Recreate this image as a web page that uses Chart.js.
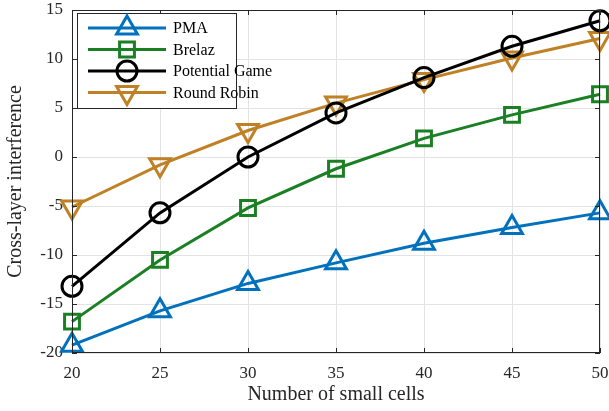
<!DOCTYPE html>
<html>
<head>
<meta charset="utf-8">
<script src="https://cdn.jsdelivr.net/npm/chart.js@4"></script>
<style>
  html, body { margin: 0; padding: 0; background: #fff; }
  #wrap { width: 609px; height: 411px; }
</style>
</head>
<body>
<div id="wrap"><canvas id="myChart" width="609" height="411"></canvas></div>
<script>
const cells = [20, 25, 30, 35, 40, 45, 50];
const pma = [-19.2, -15.7, -12.9, -10.8, -8.8, -7.2, -5.7];
const brelaz = [-16.8, -10.5, -5.2, -1.2, 1.9, 4.3, 6.4];
const potentialGame = [-13.2, -5.7, 0, 4.5, 8.1, 11.3, 13.9];
const roundRobin = [-5.1, -0.8, 2.7, 5.5, 7.9, 10.1, 12.1];
const xTicks = [20, 25, 30, 35, 40, 45, 50];
const yTicks = [-20, -15, -10, -5, 0, 5, 10, 15];

const serif = "'Liberation Serif', 'DejaVu Serif', serif";
const axisColor = '#262626';

function series(label, values, color, style, radius, rotation) {
    return {
        label,
        data: values.map((v, i) => ({ x: cells[i], y: v })),
        borderColor: color,
        backgroundColor: 'rgba(0,0,0,0)',
        borderWidth: 3,
        pointStyle: style,
        pointRadius: radius,
        pointRotation: rotation || 0,
        pointBorderWidth: 3,
        pointBackgroundColor: 'rgba(0,0,0,0)',
        pointBorderColor: color,
        tension: 0
    };
}

// box, inward ticks and the line+marker legend drawn like matlab
const matlabFrame = {
    id: 'matlabFrame',
    afterDatasetsDraw(chart) {
        const { ctx, chartArea: a, scales: { x, y } } = chart;
        ctx.save();
        ctx.strokeStyle = axisColor;
        ctx.lineWidth = 1;
        ctx.strokeRect(a.left + 0.5, a.top + 0.5, a.right - a.left - 1, a.bottom - a.top - 1);
        ctx.beginPath();
        xTicks.forEach(t => {
            const px = Math.round(x.getPixelForValue(t)) + 0.5;
            ctx.moveTo(px, a.bottom); ctx.lineTo(px, a.bottom - 5);
            ctx.moveTo(px, a.top); ctx.lineTo(px, a.top + 5);
        });
        yTicks.forEach(t => {
            const py = Math.round(y.getPixelForValue(t)) + 0.5;
            ctx.moveTo(a.left, py); ctx.lineTo(a.left + 5, py);
            ctx.moveTo(a.right, py); ctx.lineTo(a.right - 5, py);
        });
        ctx.stroke();

        // legend
        const bx = a.left + 5, by = a.top + 3, bw = 159, bh = 95;
        ctx.fillStyle = '#fff';
        ctx.fillRect(bx, by, bw, bh);
        ctx.strokeStyle = axisColor;
        ctx.strokeRect(bx + 0.5, by + 0.5, bw, bh);
        ctx.font = '16px ' + serif;
        ctx.textBaseline = 'middle';
        chart.data.datasets.forEach((ds, i) => {
            const ly = by + 15 + i * 21.5;
            ctx.strokeStyle = ds.borderColor;
            ctx.lineWidth = 3;
            ctx.beginPath();
            ctx.moveTo(bx + 11, ly); ctx.lineTo(bx + 89, ly);
            ctx.stroke();
            ctx.fillStyle = 'rgba(0,0,0,0)';
            Chart.helpers.drawPoint(ctx, {
                pointStyle: ds.pointStyle,
                radius: ds.pointRadius,
                rotation: ds.pointRotation,
                borderWidth: 3
            }, bx + 50, ly);
            ctx.fillStyle = '#000';
            ctx.fillText(ds.label, bx + 96, ly + 1);
        });
        ctx.restore();
    }
};

new Chart(document.getElementById('myChart'), {
    type: 'line',
    data: {
        datasets: [
            series('PMA', pma, '#0072BD', 'triangle', 12, 0),
            series('Brelaz', brelaz, '#1B8024', 'rect', 10.5, 0),
            series('Potential Game', potentialGame, '#000000', 'circle', 10, 0),
            series('Round Robin', roundRobin, '#BF8026', 'triangle', 12, 180)
        ]
    },
    options: {
        responsive: false,
        animation: false,
        clip: false,
        layout: { autoPadding: false, padding: { top: 10, right: 9, left: 0, bottom: 0 } },
        plugins: { legend: { display: false }, tooltip: { enabled: false } },
        scales: {
            x: {
                type: 'linear',
                min: 20, max: 50,
                afterBuildTicks: s => { s.ticks = xTicks.map(v => ({ value: v })); },
                afterFit: s => { s.height = 58; s.paddingLeft = 0; s.paddingRight = 0; },
                grid: { color: '#e3e3e3', drawTicks: false },
                border: { display: false },
                ticks: { color: '#262626', padding: 10, font: { family: serif, size: 17 } },
                title: {
                    display: true, text: 'Number of small cells', color: '#262626',
                    font: { family: serif, size: 20 }, padding: { top: 2 }
                }
            },
            y: {
                min: -20, max: 15,
                afterBuildTicks: s => { s.ticks = yTicks.map(v => ({ value: v })); },
                afterFit: s => { s.width = 72; s.paddingTop = 0; s.paddingBottom = 0; },
                grid: { color: '#e3e3e3', drawTicks: false },
                border: { display: false },
                ticks: { color: '#262626', padding: 9, font: { family: serif, size: 17 } },
                title: {
                    display: true, text: 'Cross-layer interference', color: '#262626',
                    font: { family: serif, size: 20 }, padding: { top: 4, bottom: 0 }
                }
            }
        }
    },
    plugins: [matlabFrame]
});
</script>
</body>
</html>
